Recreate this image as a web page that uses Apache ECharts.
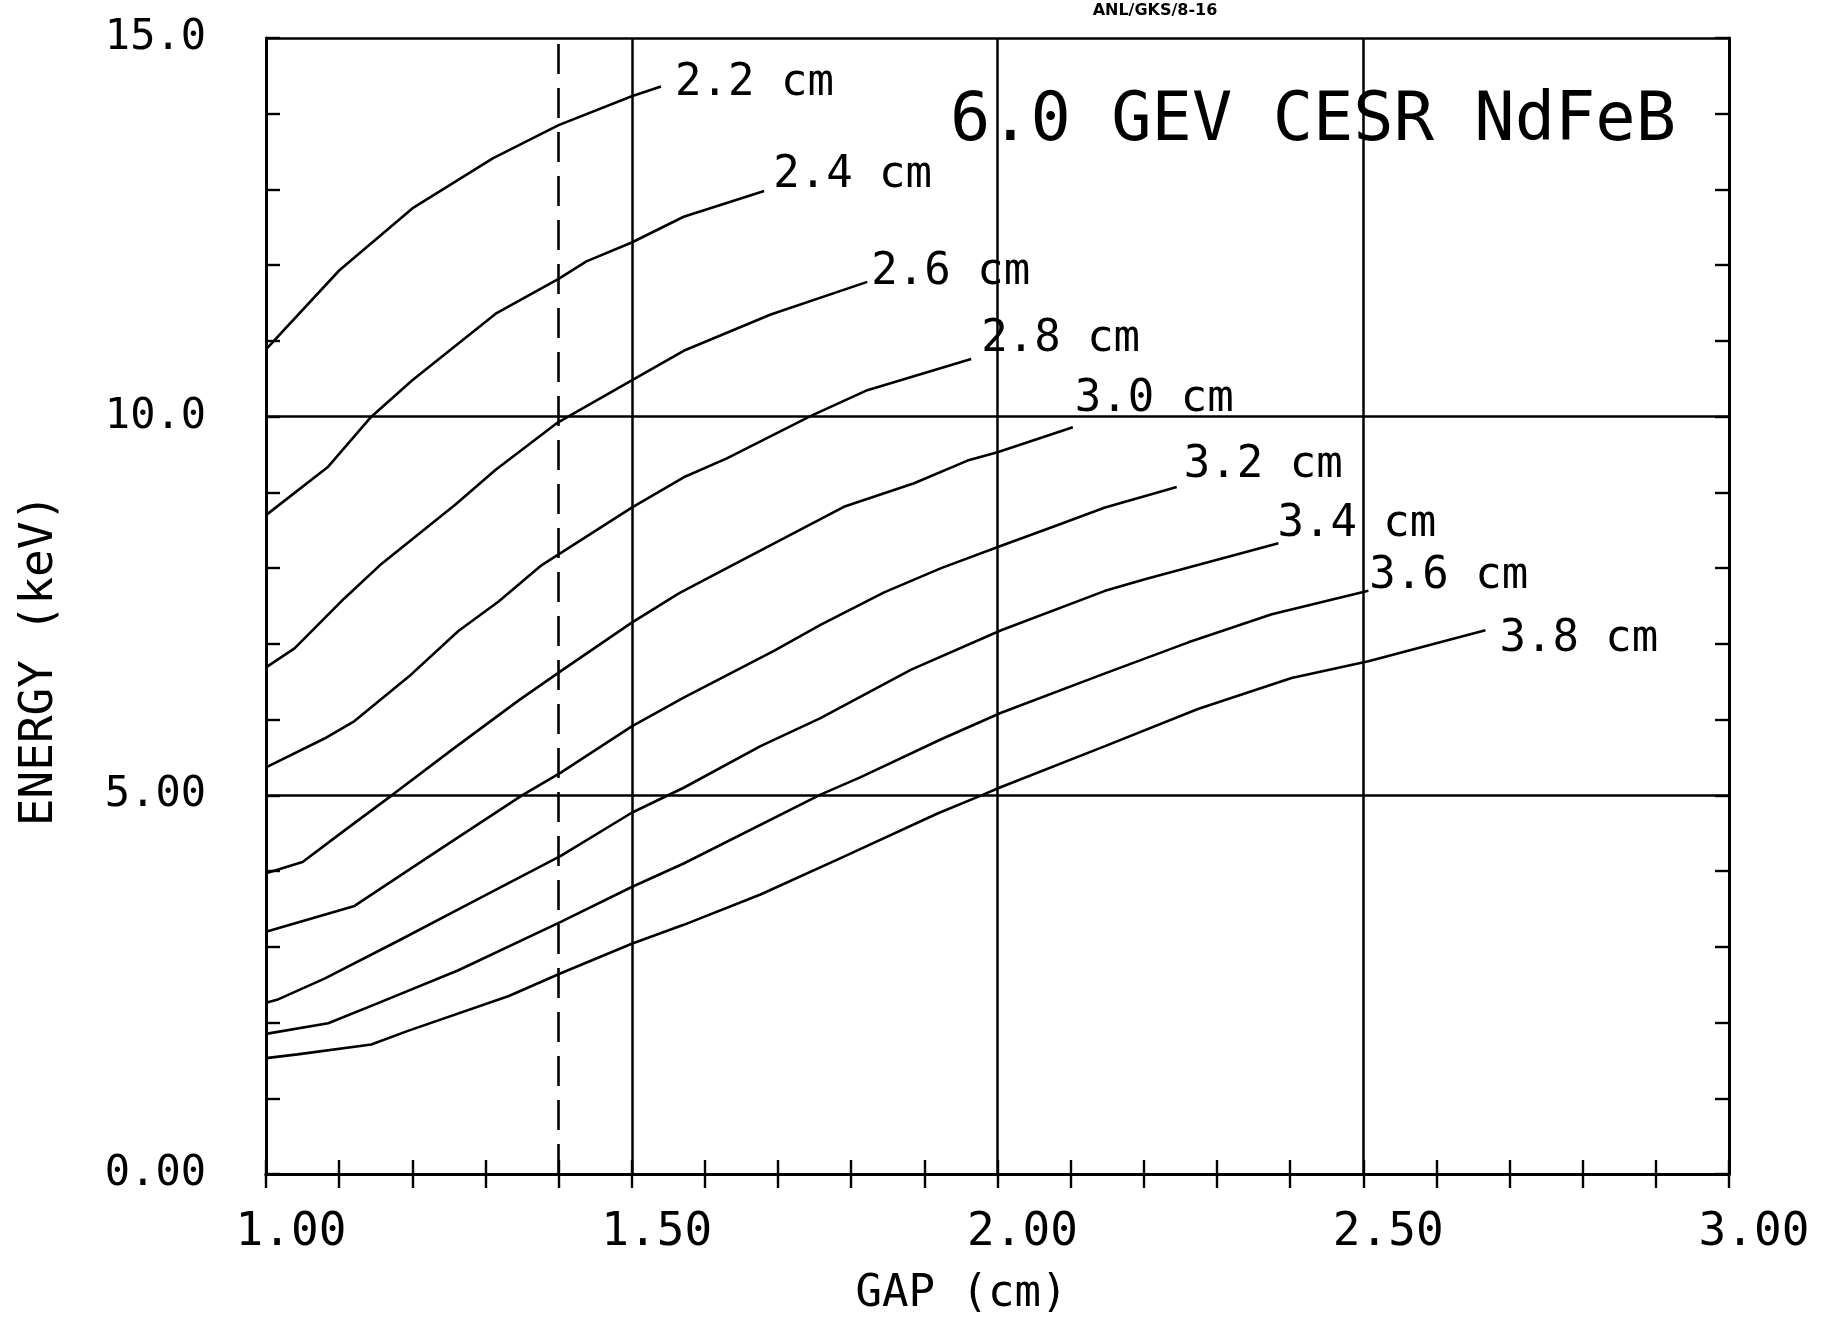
<!DOCTYPE html>
<html><head><meta charset="utf-8">
<script src="https://cdn.jsdelivr.net/npm/echarts@6/dist/echarts.min.js"></script>
<style>html,body{margin:0;padding:0;background:#fff}#c{width:1821px;height:1332px}</style>
</head><body><div id="c"></div>
<script>
// ---- data ----
const CURVE_NAMES = ['2.2 cm','2.4 cm','2.6 cm','2.8 cm','3.0 cm','3.2 cm','3.4 cm','3.6 cm','3.8 cm'];

const GAP_22 = [1.00, 1.10, 1.20, 1.31, 1.40, 1.50, 1.54];
const ENERGY_22 = [10.89, 11.93, 12.75, 13.41, 13.85, 14.23, 14.36];

const GAP_24 = [1.00, 1.085, 1.144, 1.20, 1.314, 1.40, 1.438, 1.50, 1.571, 1.681];
const ENERGY_24 = [8.70, 9.34, 10.00, 10.48, 11.36, 11.82, 12.05, 12.30, 12.64, 12.98];

const GAP_26 = [1.00, 1.039, 1.107, 1.156, 1.259, 1.314, 1.397, 1.422, 1.50, 1.571, 1.69, 1.822];
const ENERGY_26 = [6.69, 6.94, 7.60, 8.04, 8.84, 9.30, 9.91, 10.05, 10.48, 10.87, 11.35, 11.78];

const GAP_28 = [1.00, 1.080, 1.121, 1.199, 1.263, 1.318, 1.377, 1.50, 1.571, 1.63, 1.745, 1.822, 1.964];
const ENERGY_28 = [5.37, 5.75, 5.98, 6.60, 7.17, 7.56, 8.04, 8.80, 9.20, 9.45, 10.01, 10.35, 10.76];

const GAP_30 = [1.00, 1.050, 1.112, 1.172, 1.254, 1.345, 1.403, 1.50, 1.565, 1.63, 1.79, 1.886, 1.959, 2.00, 2.103];
const ENERGY_30 = [3.97, 4.12, 4.57, 5.00, 5.60, 6.25, 6.64, 7.28, 7.67, 8.00, 8.81, 9.12, 9.42, 9.53, 9.86];

const GAP_32 = [1.00, 1.121, 1.235, 1.35, 1.403, 1.50, 1.571, 1.695, 1.758, 1.845, 1.923, 2.006, 2.077, 2.147, 2.245];
const ENERGY_32 = [3.20, 3.54, 4.27, 5.00, 5.30, 5.91, 6.29, 6.91, 7.25, 7.68, 8.00, 8.30, 8.55, 8.80, 9.07];

const GAP_34 = [1.00, 1.015, 1.080, 1.181, 1.272, 1.403, 1.50, 1.571, 1.676, 1.758, 1.882, 2.005, 2.147, 2.204, 2.384];
const ENERGY_34 = [2.26, 2.30, 2.58, 3.08, 3.54, 4.20, 4.77, 5.10, 5.65, 6.02, 6.66, 7.18, 7.70, 7.86, 8.33];

const GAP_36 = [1.00, 1.085, 1.149, 1.263, 1.403, 1.50, 1.571, 1.758, 1.813, 1.923, 2.005, 2.147, 2.261, 2.375, 2.507];
const ENERGY_36 = [1.85, 1.99, 2.24, 2.69, 3.33, 3.79, 4.10, 5.01, 5.24, 5.74, 6.09, 6.61, 7.02, 7.39, 7.70];

const GAP_38 = [1.00, 1.043, 1.144, 1.194, 1.332, 1.403, 1.50, 1.571, 1.676, 1.790, 1.918, 1.978, 2.005, 2.147, 2.274, 2.402, 2.507, 2.667];
const ENERGY_38 = [1.53, 1.58, 1.71, 1.89, 2.35, 2.65, 3.04, 3.29, 3.69, 4.19, 4.76, 5.00, 5.11, 5.65, 6.14, 6.55, 6.77, 7.18];

const X_TICK_LABELS = ['1.00', '1.50', '2.00', '2.50', '3.00'];
const Y_TICK_LABELS = ['0.00', '5.00', '10.0', '15.0'];
const MARKER_GAP = 1.40;
const TITLE_TEXT = '6.0 GEV CESR NdFeB';
const CODE_TEXT = 'ANL/GKS/8-16';
const X_NAME = 'GAP (cm)';
const Y_NAME = 'ENERGY (keV)';

// ---- chart building ----
const GAPS = [GAP_22, GAP_24, GAP_26, GAP_28, GAP_30, GAP_32, GAP_34, GAP_36, GAP_38];
const ENERGIES = [ENERGY_22, ENERGY_24, ENERGY_26, ENERGY_28, ENERGY_30, ENERGY_32, ENERGY_34, ENERGY_36, ENERGY_38];
const LABEL_OFFSETS = [[14,-3],[9,-15],[4,-9],[10,-20],[2,-28],[7,-22],[-1,-19],[1,-14],[14,9]];

const MONO = '"DejaVu Sans Mono", monospace';
const BLACK = '#000';

const series = CURVE_NAMES.map((name, k) => ({
  name: name,
  type: 'line',
  xAxisIndex: 0, yAxisIndex: 0,
  symbol: 'none',
  silent: true,
  animation: false,
  data: GAPS[k].map((g, i) => [g, ENERGIES[k][i]]),
  lineStyle: { color: BLACK, width: 2.6 },
  endLabel: {
    show: true,
    formatter: name,
    distance: 0,
    offset: LABEL_OFFSETS[k],
    color: BLACK,
    fontFamily: MONO,
    fontSize: 44
  }
}));

series[0].markLine = {
  silent: true,
  symbol: ['none', 'none'],
  animation: false,
  label: { show: false },
  lineStyle: { color: BLACK, width: 2.6, type: [30, 14] },
  data: [{ xAxis: MARKER_GAP }]
};

const tickStyle = { color: BLACK, width: 2.4 };

const option = {
  animation: false,
  backgroundColor: '#fff',
  grid: { left: 266, right: 92, top: 38, bottom: 158, show: false },
  xAxis: [
    {
      type: 'value', min: 1, max: 3, interval: 0.5, position: 'bottom',
      axisLine: { show: true, lineStyle: { color: BLACK, width: 3 } },
      axisTick: { show: true, inside: true, length: 14, lineStyle: tickStyle },
      minorTick: { show: true, splitNumber: 5, length: 14, lineStyle: tickStyle },
      splitLine: { show: true, lineStyle: { color: BLACK, width: 2.5 } },
      axisLabel: {
        formatter: v => X_TICK_LABELS[Math.round((v - 1) / 0.5)],
        color: BLACK, fontFamily: MONO, fontSize: 46, margin: 36,
        padding: [0, 0, 0, 50]
      },
      name: X_NAME, nameLocation: 'middle', nameGap: 99,
      nameTextStyle: { color: BLACK, fontFamily: MONO, fontSize: 44, padding: [0, 72, 0, 0] }
    },
    {
      type: 'value', min: 1, max: 3, interval: 0.5, position: 'top',
      axisLine: { show: true, lineStyle: { color: BLACK, width: 3 } },
      axisTick: { show: true, inside: true, length: 14, lineStyle: tickStyle },
      minorTick: { show: true, splitNumber: 5, length: 14, lineStyle: tickStyle },
      splitLine: { show: false },
      axisLabel: { show: false }
    }
  ],
  yAxis: [
    {
      type: 'value', min: 0, max: 15, interval: 5, position: 'left',
      axisLine: { show: true, lineStyle: { color: BLACK, width: 3 } },
      axisTick: { show: true, inside: true, length: 14, lineStyle: tickStyle },
      minorTick: { show: true, splitNumber: 5, length: 14, lineStyle: tickStyle },
      splitLine: { show: true, lineStyle: { color: BLACK, width: 2.5 } },
      axisLabel: {
        formatter: v => Y_TICK_LABELS[Math.round(v / 5)],
        color: BLACK, fontFamily: MONO, fontSize: 42, margin: 60
      },
      name: Y_NAME, nameLocation: 'middle', nameGap: 203,
      nameTextStyle: { color: BLACK, fontFamily: MONO, fontSize: 46, padding: [0, 108, 0, 0] }
    },
    {
      type: 'value', min: 0, max: 15, interval: 5, position: 'right',
      axisLine: { show: true, lineStyle: { color: BLACK, width: 3 } },
      axisTick: { show: true, inside: true, length: 14, lineStyle: tickStyle },
      minorTick: { show: true, splitNumber: 5, length: 14, lineStyle: tickStyle },
      splitLine: { show: false },
      axisLabel: { show: false }
    }
  ],
  graphic: [
    {
      type: 'text', silent: true,
      style: {
        x: 1676, y: 123, text: TITLE_TEXT, textAlign: 'right', textVerticalAlign: 'middle',
        font: '67px "DejaVu Sans Mono"', fill: BLACK
      }
    },
    {
      type: 'text', silent: true,
      style: {
        x: 1155, y: 11, text: CODE_TEXT, textAlign: 'center', textVerticalAlign: 'middle',
        font: 'bold 16px "DejaVu Sans"', fill: BLACK
      }
    }
  ],
  series: series
};

const chart = echarts.init(document.getElementById('c'), null, { renderer: 'canvas' });
chart.setOption(option);
</script>
</body></html>
